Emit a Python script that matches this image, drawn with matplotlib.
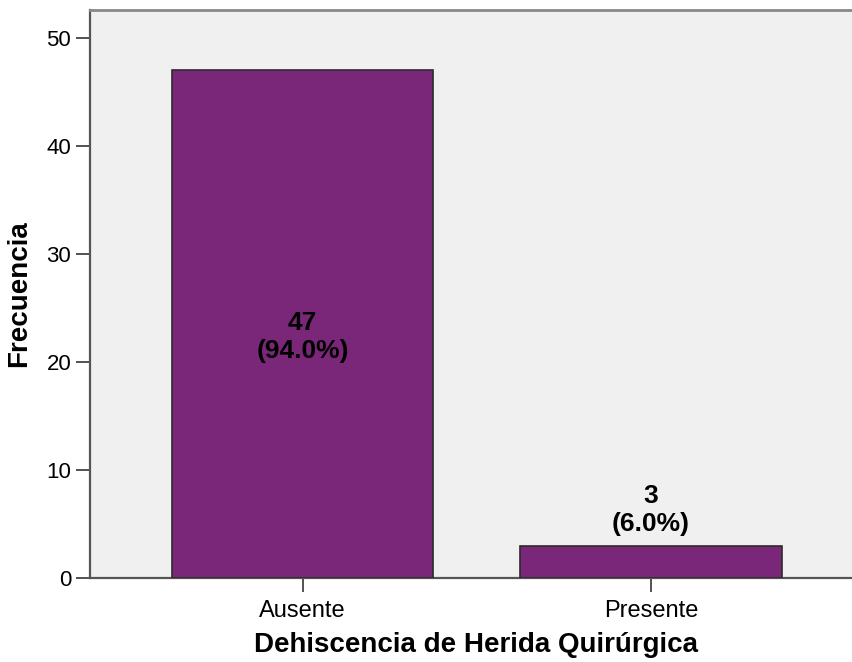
import matplotlib
matplotlib.use("Agg")
import matplotlib.pyplot as plt

# Data
categories = ["Ausente", "Presente"]
counts = [47, 3]
percents = [94.0, 6.0]

plt.rcParams['font.family'] = ['Liberation Sans', 'DejaVu Sans']

fig = plt.figure(figsize=(8.53, 6.62), dpi=100)
ax = fig.add_axes([90/853, 84/662, 1 - 90/853, (578 - 10)/662])
ax.set_facecolor('#F0F0F0')

x = list(range(len(categories)))
ax.bar(x, counts, width=0.75, color='#7B2779', edgecolor='#2B2B2B', linewidth=1.2, zorder=3)

ax.set_xlim(-0.61, 1.58)
ax.set_ylim(0, 52.6)
ax.set_yticks([0, 10, 20, 30, 40, 50])
ax.set_xticks(x)
ax.set_xticklabels(categories)

# value labels
for i in x:
    txt = "%d\n(%.1f%%)" % (counts[i], percents[i])
    if counts[i] > 20:
        ax.text(i, counts[i] * 0.475, txt, ha='center', va='center',
                fontsize=19, fontweight='bold', linespacing=1.2)
    else:
        ax.text(i, counts[i] + 0.9, txt, ha='center', va='bottom',
                fontsize=19, fontweight='bold', linespacing=1.2)

ax.tick_params(axis='both', length=10, width=1.3, color='#444444', direction='out')
ax.tick_params(axis='y', labelsize=16)
ax.tick_params(axis='x', labelsize=17, pad=6)

ax.spines['left'].set_color('#555555')
ax.spines['left'].set_linewidth(1.6)
ax.spines['bottom'].set_color('#555555')
ax.spines['bottom'].set_linewidth(1.6)
ax.spines['top'].set_color('#888888')
ax.spines['top'].set_linewidth(2)
ax.spines['right'].set_visible(False)

ax.set_xlabel("Dehiscencia de Herida Quirúrgica", fontsize=20, fontweight='bold', labelpad=6)
ax.xaxis.set_label_coords((476 - 90) / (853 - 90), -0.095)
ax.set_ylabel("Frecuencia", fontsize=20, fontweight='bold', labelpad=10)

fig.savefig("out.png", dpi=100)
